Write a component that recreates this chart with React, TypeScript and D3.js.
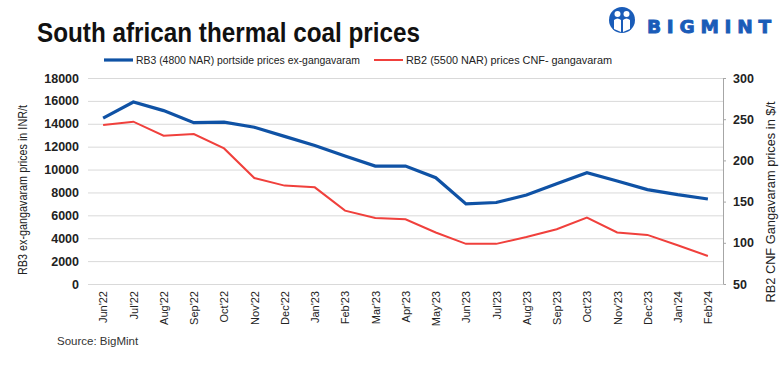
import { useRef, useEffect } from "react";
import * as d3 from "d3";

const months = [
  "Jun'22", "Jul'22", "Aug'22", "Sep'22", "Oct'22", "Nov'22", "Dec'22",
  "Jan'23", "Feb'23", "Mar'23", "Apr'23", "May'23", "Jun'23", "Jul'23",
  "Aug'23", "Sep'23", "Oct'23", "Nov'23", "Dec'23", "Jan'24", "Feb'24",
];
const rb3Inr = [
  14500, 15900, 15150, 14100, 14150, 13700, 12900, 12100, 11180, 10300, 10300,
  9290, 7000, 7120, 7780, 8770, 9730, 9000, 8250, 7810, 7430,
];
const rb2Usd = [
  243, 247, 230, 232, 214.5, 178.6, 169.4, 167.3, 139, 130, 128.6, 112.5, 98.7,
  98.7, 107, 116.5, 130.6, 112.5, 109.6, 97, 84,
];
const leftTicks = [0, 2000, 4000, 6000, 8000, 10000, 12000, 14000, 16000, 18000];
const rightTicks = [50, 100, 150, 200, 250, 300];

const BLUE = "#0f52a5";
const RED = "#f0403c";
const FONT = "'Liberation Sans', Arial, sans-serif";

export default function App() {
  const ref = useRef<SVGSVGElement | null>(null);

  useEffect(() => {
    if (!ref.current) return;
    const svg = d3.select(ref.current).html("");
    const W = 784;
    const H = 373;
    const margin = { top: 78, right: 61, bottom: 89, left: 88 };
    const iw = W - margin.left - margin.right;
    const ih = H - margin.top - margin.bottom;

    svg.append("rect").attr("width", W).attr("height", H).attr("fill", "#fff");

    // title
    svg.append("text")
      .attr("x", 37).attr("y", 42)
      .attr("font-family", FONT).attr("font-weight", "bold")
      .attr("font-size", 27).attr("fill", "#111")
      .attr("textLength", 383).attr("lengthAdjust", "spacingAndGlyphs")
      .text("South african thermal coal prices");

    // logo
    const logo = svg.append("g").attr("transform", "translate(622,20)");
    logo.append("circle").attr("cx", 0).attr("cy", 0).attr("r", 13).attr("fill", "#1a5cb8");
    logo.append("circle").attr("cx", -4.5).attr("cy", -6).attr("r", 3).attr("fill", "#fff");
    logo.append("circle").attr("cx", 4.5).attr("cy", -6).attr("r", 3).attr("fill", "#fff");
    logo.append("path").attr("d", "M-8,9 L-8,0 Q-4.5,-3 -1,0 L-1,12 Z").attr("fill", "#fff");
    logo.append("path").attr("d", "M1,12 L1,0 Q4.5,-3 8,0 L8,9 Z").attr("fill", "#fff");
    svg.append("text")
      .attr("x", 647).attr("y", 33)
      .attr("font-family", "'DejaVu Sans', sans-serif").attr("font-weight", "bold")
      .attr("font-size", 18.5).attr("fill", "#1a5cb8")
      .attr("stroke", "#1a5cb8").attr("stroke-width", 0.9)
      .attr("textLength", 124).attr("lengthAdjust", "spacing")
      .text("BIGMINT");

    const g = svg.append("g").attr("transform", `translate(${margin.left},${margin.top})`);

    const x = d3.scalePoint<string>().domain(months).range([0, iw]).padding(0.5);
    const yL = d3.scaleLinear().domain([0, 18000]).range([ih, 0]);
    const yR = d3.scaleLinear().domain([50, 300]).range([ih, 0]);

    // gridlines
    g.append("g")
      .call(d3.axisLeft(yL).tickValues(leftTicks).tickSize(-iw).tickFormat(() => ""))
      .call((s) => s.select(".domain").remove())
      .selectAll("line").attr("stroke", "#d9d9d9").attr("stroke-width", 1);

    // left axis labels
    const la = g.append("g")
      .call(d3.axisLeft(yL).tickValues(leftTicks).tickSize(0).tickPadding(9).tickFormat(d3.format("d")));
    la.select(".domain").remove();
    la.selectAll("text")
      .attr("font-family", FONT).attr("font-weight", "bold")
      .attr("font-size", 12.5).attr("fill", "#222");

    // right axis
    const ra = g.append("g")
      .attr("transform", `translate(${iw},0)`)
      .call(d3.axisRight(yR).tickValues(rightTicks).tickSize(3).tickPadding(7));
    ra.select(".domain").attr("stroke", "#a6a6a6");
    ra.selectAll("line").attr("stroke", "#a6a6a6");
    ra.selectAll("text")
      .attr("font-family", FONT).attr("font-weight", "bold")
      .attr("font-size", 12.5).attr("fill", "#222");

    // x axis
    const xa = g.append("g")
      .attr("transform", `translate(0,${ih})`)
      .call(d3.axisBottom(x).tickSize(0).tickPadding(6));
    xa.select(".domain").attr("stroke", "#d9d9d9");
    xa.selectAll("text")
      .attr("font-family", FONT).attr("font-size", 11).attr("fill", "#222")
      .attr("transform", "rotate(-90)")
      .attr("text-anchor", "end")
      .attr("x", -7).attr("y", 0).attr("dy", "0.35em");

    // lines
    const lineL = d3.line<number>().x((_, i) => x(months[i]) as number).y((d) => yL(d));
    const lineR = d3.line<number>().x((_, i) => x(months[i]) as number).y((d) => yR(d));
    g.append("path").datum(rb2Usd).attr("fill", "none")
      .attr("stroke", RED).attr("stroke-width", 2).attr("d", lineR);
    g.append("path").datum(rb3Inr).attr("fill", "none")
      .attr("stroke", BLUE).attr("stroke-width", 3.2).attr("d", lineL);

    // axis titles
    svg.append("text")
      .attr("transform", "translate(27,190) rotate(-90)")
      .attr("text-anchor", "middle")
      .attr("font-family", FONT).attr("font-size", 12).attr("fill", "#222")
      .attr("textLength", 170).attr("lengthAdjust", "spacingAndGlyphs")
      .text("RB3 ex-gangavaram prices in INR/t");
    svg.append("text")
      .attr("transform", "translate(775,202) rotate(-90)")
      .attr("text-anchor", "middle")
      .attr("font-family", FONT).attr("font-size", 12.5).attr("fill", "#222")
      .attr("textLength", 201).attr("lengthAdjust", "spacingAndGlyphs")
      .text("RB2 CNF Gangavaram prices in $/t");

    // legend
    const legend = [
      { label: "RB3 (4800 NAR) portside prices ex-gangavaram", color: BLUE, w: 3.2, x: 104, tw: 224 },
      { label: "RB2 (5500 NAR) prices CNF- gangavaram", color: RED, w: 2, x: 374, tw: 206 },
    ];
    legend.forEach((l) => {
      svg.append("line")
        .attr("x1", l.x).attr("x2", l.x + 29).attr("y1", 60).attr("y2", 60)
        .attr("stroke", l.color).attr("stroke-width", l.w);
      svg.append("text")
        .attr("x", l.x + 32).attr("y", 64)
        .attr("font-family", FONT).attr("font-size", 11).attr("fill", "#222")
        .attr("textLength", l.tw).attr("lengthAdjust", "spacingAndGlyphs")
        .text(l.label);
    });

    // source
    svg.append("text")
      .attr("x", 57).attr("y", 345)
      .attr("font-family", FONT).attr("font-size", 11.5).attr("fill", "#333")
      .text("Source: BigMint");
  }, []);

  return <svg ref={ref} width={784} height={373} style={{ position: "absolute", left: 0, top: 0 }}></svg>;
}
